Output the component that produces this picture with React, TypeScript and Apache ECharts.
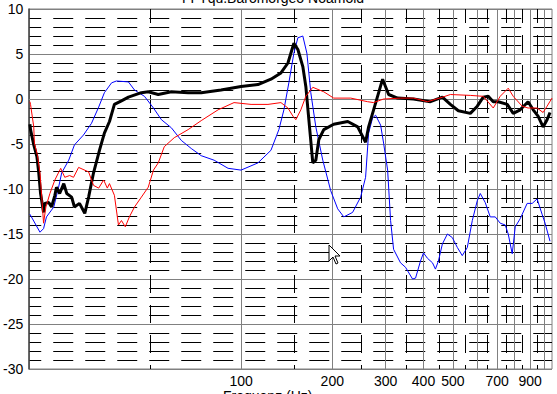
import React, { useEffect, useRef } from "react";
import * as echarts from "echarts";

const titleText = "FFTqu.Baromorgeo Noamold";
const xAxisTitle = "Frequenz (Hz)";

const yMin = -30;
const yMax = 10;
const yStep = 5;
const fMin = 20;
const fMax = 1062;

const majorFreqs = [100, 200, 300, 400, 500, 600, 700, 800, 900, 1000];
const minorFreqs = [50, 150, 250, 350, 450, 550, 650, 750, 850, 950];
const freqLabels = [100, 200, 300, 400, 500, 700, 900];

const blackCurve: [number, number][] = [
  [20.1, -2.8], [20.2, -3.4], [20.7, -5.1], [21.2, -6.4], [21.5, -8.2], [21.8, -10.5],
  [22.3, -12.6], [22.5, -11.6], [23.2, -11.5], [23.7, -12], [24.3, -10.7], [24.6, -9.8],
  [25.2, -10.5], [26.0, -9.4], [26.6, -10.5], [27.6, -10.9], [28.2, -12], [29.3, -11.6],
  [30.5, -12.7], [31.4, -10.9], [32.6, -8.2], [34.1, -5.7], [35.4, -3.8], [36.8, -2.5],
  [38.2, -0.6], [40.3, -0.2], [42.5, 0.2], [46.9, 0.7], [49.4, 0.8], [53.3, 0.5],
  [58.9, 0.8], [66.9, 0.7], [73.9, 0.7], [85.9, 1.0], [100, 1.4], [113.7, 1.6],
  [125.5, 2.2], [135.4, 2.9], [142.8, 4.0], [149.4, 6.2], [154, 5.5], [159.9, 3.6],
  [163.6, 1.4], [167.4, -2.3], [172.5, -7.1], [176.5, -6.8], [180.6, -4.5], [187.5, -3.4],
  [202.2, -2.8], [225, -2.5], [242.6, -3.1], [257.6, -4.8], [263.6, -3.1], [273.8, -1.2],
  [293.2, 2.2], [306.9, 0.5], [328.5, 0.1], [370.9, 0], [421.7, -0.3], [461.8, 0.2],
  [490.7, -0.6], [521.3, -1.3], [570.9, -1.6], [602, -0.8], [629.8, 0.2], [654.3, 0.3],
  [679.6, -0.3], [705.9, -0.3], [755.8, -0.6], [791, -1.6], [834, -1.2], [885.5, -0.3],
  [920.7, -1.2], [955.3, -1.9], [992.4, -3.1], [1023, -2.3], [1046, -1.5]
];

const redCurve: [number, number][] = [
  [20.1, -0.3], [20.2, -0.6], [20.7, -3.1], [20.8, -4.9], [21.3, -6.3], [21.7, -8.2],
  [22.0, -10.9], [22.3, -13.8], [22.7, -12], [23.4, -10.5], [24.3, -9.0], [25.4, -7.7],
  [26.2, -8.7], [27.2, -8.5], [28.0, -8.7], [29.1, -7.6], [31.4, -8.1], [32.6, -9.6],
  [33.9, -9.9], [35.2, -9.0], [36.2, -9.9], [36.8, -9.4], [38.2, -10.7], [39.4, -14.0],
  [40.3, -13.5], [41.5, -14.2], [42.8, -13.1], [44.5, -12], [46.9, -10.9], [49.4, -9.8],
  [51.4, -7.9], [53.3, -7.1], [55.8, -5.3], [60.2, -4.3], [66.9, -3.4], [73.9, -2.4],
  [84.0, -1.2], [94.8, -0.4], [107.9, -0.6], [122.7, -0.6], [135.4, -0.4], [142.8, -1.0],
  [148.3, -1.9], [151.6, -2.3], [157.5, -1.2], [163.6, 0.3], [172.5, 1.3], [187.5, 0.8],
  [202.2, 0.1], [230.1, 0.1], [261.6, -0.3], [273.8, -0.4], [295.4, 0], [335.9, 0.1],
  [370.9, 0.1], [412.3, -0.3], [461.8, 0.2], [490.7, 0.5], [570.9, 0.4], [629.8, 0.3],
  [679.6, -1.0], [716.4, 0.3], [761.5, 1.2], [791, 0.3], [846.7, -0.8], [885.5, -1.0],
  [948.4, -1.0], [992.4, -1.5], [1023, -0.8], [1062, 0.1]
];

const blueCurve: [number, number][] = [
  [20.1, -12.8], [21.7, -14.8], [22.3, -14.4], [22.8, -13.1], [24.1, -12], [25.0, -9.8],
  [25.6, -8.2], [27.0, -6.8], [28.2, -5.1], [30.2, -4.0], [32.1, -2.7], [33.9, -0.9],
  [35.4, 0.7], [37.4, 1.8], [38.8, 2.0], [42.5, 1.9], [44.5, 1.0], [48.0, 0.3],
  [51.4, -1.0], [54.6, -2.3], [58.9, -3.2], [63.5, -4.6], [68.5, -5.5], [73.9, -6.3],
  [81.5, -6.8], [90.6, -7.7], [100, -7.9], [113.7, -7.1], [125.5, -5.7], [133.3, -3.4],
  [138.5, -1.2], [143.8, 1.8], [149.4, 5.1], [154, 6.8], [159.9, 7.0], [164.9, 5.1],
  [169.9, 0.7], [176.5, -3.1], [186.1, -6.8], [197.7, -10.2], [208.4, -12.2], [218.3, -13.1],
  [233.4, -12.6], [248.1, -10.9], [257.6, -8.7], [263.6, -3.8], [271.7, -2.1], [278, -1.8],
  [288.8, -2.9], [295.4, -4.9], [304.6, -7.9], [311.5, -13.5], [318.7, -16.7], [335.9, -18.2],
  [349, -18.7], [368.1, -20], [376.6, -19.9], [391, -18], [400, -17.1], [412.3, -17.7],
  [428.3, -18.2], [438, -18.9], [448, -18], [461.8, -16.1], [479.7, -15], [498, -15.4],
  [517.4, -16.5], [537.1, -17.4], [558, -16.5], [579.6, -13.5], [602, -11.3], [615.7, -10.5],
  [639.4, -11.5], [664.2, -13.1], [690.1, -13.1], [716.4, -13.8], [744.4, -14], [761.5, -15],
  [785, -17.2], [803.2, -14.2], [834, -13.3], [879.4, -11.6], [913.7, -11.6], [948.4, -11.1],
  [984.8, -12.8], [1007.6, -13.8], [1046, -15.8]
];

const FONT = "'Liberation Sans', Arial, sans-serif";

export default function App() {
  const ref = useRef<HTMLDivElement>(null);
  useEffect(() => {
    if (!ref.current) return;
    const chart = echarts.init(ref.current, null, { renderer: "svg" });
    const xBase = {
      type: "log" as const,
      logBase: 10,
      min: fMin,
      max: fMax,
      position: "bottom" as const,
    };
    chart.setOption({
      animation: false,
      backgroundColor: "#ffffff",
      grid: {
        left: 28,
        right: 5,
        top: 9,
        bottom: 25,
        show: true,
        borderColor: "#808080",
        borderWidth: 1,
        backgroundColor: "#ffffff",
      },
      xAxis: [
        {
          ...xBase,
          axisLine: { show: true, lineStyle: { color: "#808080", width: 1 } },
          axisTick: { show: false, customValues: majorFreqs },
          axisLabel: {
            customValues: freqLabels,
            color: "#000",
            fontSize: 14,
            fontFamily: FONT,
            margin: 5,
            formatter: (v: number) => String(Math.round(v)),
          },
          splitLine: { show: true, lineStyle: { color: "#808080", width: 1 } },
        },
        {
          ...xBase,
          axisLine: { show: false },
          axisTick: { show: false, customValues: minorFreqs },
          axisLabel: { show: false },
          splitLine: {
            show: true,
            lineStyle: { color: "#000", width: 1, type: [18, 12], dashOffset: 4 },
          },
        },
      ],
      yAxis: {
        type: "value",
        min: yMin,
        max: yMax,
        interval: yStep,
        axisLine: { show: true, lineStyle: { color: "#404040", width: 1.5 } },
        axisTick: { show: false },
        axisLabel: { color: "#000", fontSize: 14, fontFamily: FONT, margin: 6 },
        splitLine: { show: true, lineStyle: { color: "#808080", width: 1 } },
        minorTick: { show: false, splitNumber: 5 },
        minorSplitLine: {
          show: true,
          lineStyle: { color: "#000", width: 1, type: [20, 12], dashOffset: 8 },
        },
      },
      series: [
        {
          type: "line",
          data: blueCurve,
          showSymbol: false,
          lineStyle: { color: "#0000ff", width: 1 },
          itemStyle: { color: "#0000ff" },
          z: 3,
        },
        {
          type: "line",
          data: blackCurve,
          showSymbol: false,
          lineStyle: { color: "#000000", width: 3 },
          itemStyle: { color: "#000000" },
          z: 4,
        },
        {
          type: "line",
          data: redCurve,
          showSymbol: false,
          lineStyle: { color: "#ff0000", width: 1 },
          itemStyle: { color: "#ff0000" },
          z: 5,
        },
      ],
      graphic: [
        {
          type: "text",
          left: 182,
          top: -9,
          style: { text: titleText, fill: "#000", fontSize: 14, fontFamily: FONT },
        },
        {
          type: "text",
          left: 223,
          top: 389,
          style: { text: xAxisTitle, fill: "#000", fontSize: 14, fontFamily: FONT },
        },
        {
          type: "polygon",
          shape: {
            points: [
              [329, 245], [329, 261], [333, 257], [336, 264], [338, 263], [335, 256], [340, 256],
            ],
          },
          style: { fill: "#ffffff", stroke: "#000000", lineWidth: 1 },
          z: 100,
        },
      ],
    });
    return () => chart.dispose();
  }, []);
  return <div ref={ref} style={{ width: 557, height: 394, position: "absolute", left: 0, top: 0 }} />;
}
